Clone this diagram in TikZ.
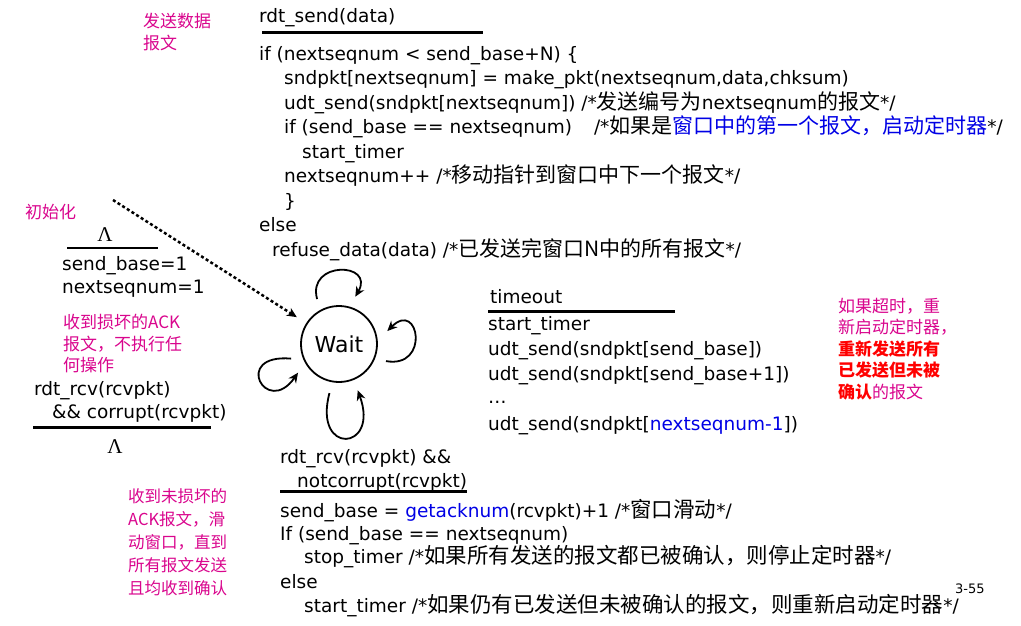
\documentclass[tikz,border=0pt]{standalone}
\usepackage{fontspec}
\setmainfont{DejaVu Sans}
\newfontfamily\cjk{Noto Sans CJK SC}
\newfontfamily\lamfont{Liberation Serif}
\usetikzlibrary{arrows.meta}

\newcommand\zh[1]{{\cjk\fontsize{21}{24.5}\selectfont #1}}
\newcommand\zhb[1]{{\cjk\fontsize{21.5}{24.5}\selectfont #1}}
\newcommand\codefont{\fontsize{18.5}{24.5}\selectfont}
\newcommand\notefont{\cjk\fontsize{17}{21.5}\selectfont}

\begin{document}
\begin{tikzpicture}[x=1pt,y=-1pt]
      \colorlet{mymagenta}{magenta!90!blue}
      \colorlet{myblue}{blue!90!black}
      \tikzset{>={Stealth[length=10pt,width=9pt]}}
      \tikzset{
        code/.style={anchor=base west,inner sep=0,font=\codefont},
        note/.style={anchor=north west,inner sep=0,align=left,text=mymagenta,font=\notefont},
        lam/.style={anchor=base,inner sep=0,font=\lamfont\fontsize{21}{21}\selectfont},
        bar/.style={line width=3pt},
        selfloop/.style={->,line width=1.8pt}
      }
      \useasboundingbox (0,0) rectangle (1021,625);

      % STATE
      \node[draw,circle,line width=1.8pt,minimum size=76pt,outer sep=12pt,
        font=\fontsize{22}{22}\selectfont] (wait) at (339,344) {Wait};

      % SELF LOOPS
      \draw[selfloop] (wait.116) .. controls +(105:40pt) and +(60:40pt) .. (wait.71);
      \draw[selfloop] (wait.-20) .. controls +(-10:45pt) and +(45:45pt) .. (wait.15);
      \draw[selfloop] (wait.197) .. controls +(175:60pt) and +(235:55pt) .. (wait.215);
      \draw[selfloop] (wait.259) .. controls +(255:65pt) and +(290:65pt) .. (wait.292);

      % INIT
      \coordinate (init) at (113,200);
      \draw[->,line width=2.5pt,dash pattern=on 3pt off 2.5pt] (init) -- (wait);
      \node[note] (initnote) at (25,204) {初始化};
      \node[lam] (initlam) at (105,241) {Λ};
      \draw[line width=2.2pt] (67,248) -- (158,248);
      \node[code] (initbase) at (62,270) {send\_base=1};
      \node[code] (initseq) at (62,293) {nextseqnum=1};

      % SEND
      \node[note] (sendnote) at (143,13) {发送数据\\报文};
      \node[code] (send0) at (259,22) {rdt\_send(data)};
      \draw[bar] (262,32) -- (483,32);
      \node[code] (send1) at (259,60) {if (nextseqnum < send\_base+N) \{};
      \node[code] (send2) at (284,84.5) {sndpkt[nextseqnum] = make\_pkt(nextseqnum,data,chksum)};
      \node[code] (send3) at (284,109) {udt\_send(sndpkt[nextseqnum]) /*\zh{发送编号为}nextseqnum\zh{的报文}*/};
      \node[code] (send4) at (284,133.5) {if (send\_base == nextseqnum)\hspace{22pt}/*\zh{如果是}\textcolor{myblue}{\zh{窗口中的第一个报文，启动定时器}}*/};
      \node[code] (send5) at (302,158) {start\_timer};
      \node[code] (send6) at (284,182.5) {nextseqnum++ /*\zh{移动指针到窗口中下一个报文}*/};
      \node[code] (send7) at (284,207) {\}};
      \node[code] (send8) at (259,231.5) {else};
      \node[code] (send9) at (272,256) {refuse\_data(data) /*\zh{已发送完窗口N中的所有报文}*/};

      % CORRUPT ACK
      \node[note] (corrnote) at (63,314) {收到损坏的ACK\\报文，不执行任\\何操作};
      \node[code] (corr1) at (34,395) {rdt\_rcv(rcvpkt)};
      \node[code] (corr2) at (52,418) {\&\& corrupt(rcvpkt)};
      \draw[bar] (33,427) -- (211,427);
      \node[lam] (corrlam) at (115,453) {Λ};

      % TIMEOUT
      \node[code] (tout0) at (490,303) {timeout};
      \draw[bar] (488,311) -- (675,311);
      \node[code] (tout1) at (488,330) {start\_timer};
      \node[code] (tout2) at (488,355) {udt\_send(sndpkt[send\_base])};
      \node[code] (tout3) at (488,380) {udt\_send(sndpkt[send\_base+1])};
      \node[code] (tout4) at (488,403) {…};
      \node[code] (tout5) at (488,430) {udt\_send(sndpkt[\textcolor{myblue}{nextseqnum-1}])};
      \node[note] (toutnote) at (838,298) {如果超时，重\\新启动定时器，\\
        \textcolor{red}{\bfseries 重新发送所有}\\\textcolor{red}{\bfseries 已发送但未被}\\
        \textcolor{red}{\bfseries 确认}的报文};

      % ACK
      \node[code] (ack0) at (280,463) {rdt\_rcv(rcvpkt) \&\&};
      \node[code] (ack1) at (297,487) {notcorrupt(rcvpkt)};
      \draw[bar] (280,491) -- (467,491);
      \node[code] (ack2) at (280,517) {send\_base = \textcolor{myblue}{getacknum}(rcvpkt)+1 /*\zhb{窗口滑动}*/};
      \node[code] (ack3) at (280,540) {If (send\_base == nextseqnum)};
      \node[code] (ack4) at (304,563) {stop\_timer /*\zhb{如果所有发送的报文都已被确认，则停止定时器}*/};
      \node[code] (ack5) at (280,588) {else};
      \node[code] (ack6) at (304,612) {start\_timer /*\zhb{如果仍有已发送但未被确认的报文，则重新启动定时器}*/};
      \node[note,font=\cjk\fontsize{16.5}{23}\selectfont] (acknote) at (128,488)
        {收到未损坏的\\ACK报文，滑\\动窗口，直到\\所有报文发送\\且均收到确认};

      % PAGE
      \node[code,font=\fontsize{13}{13}\selectfont] (page) at (955,593) {3-55};

\end{tikzpicture}
\end{document}
